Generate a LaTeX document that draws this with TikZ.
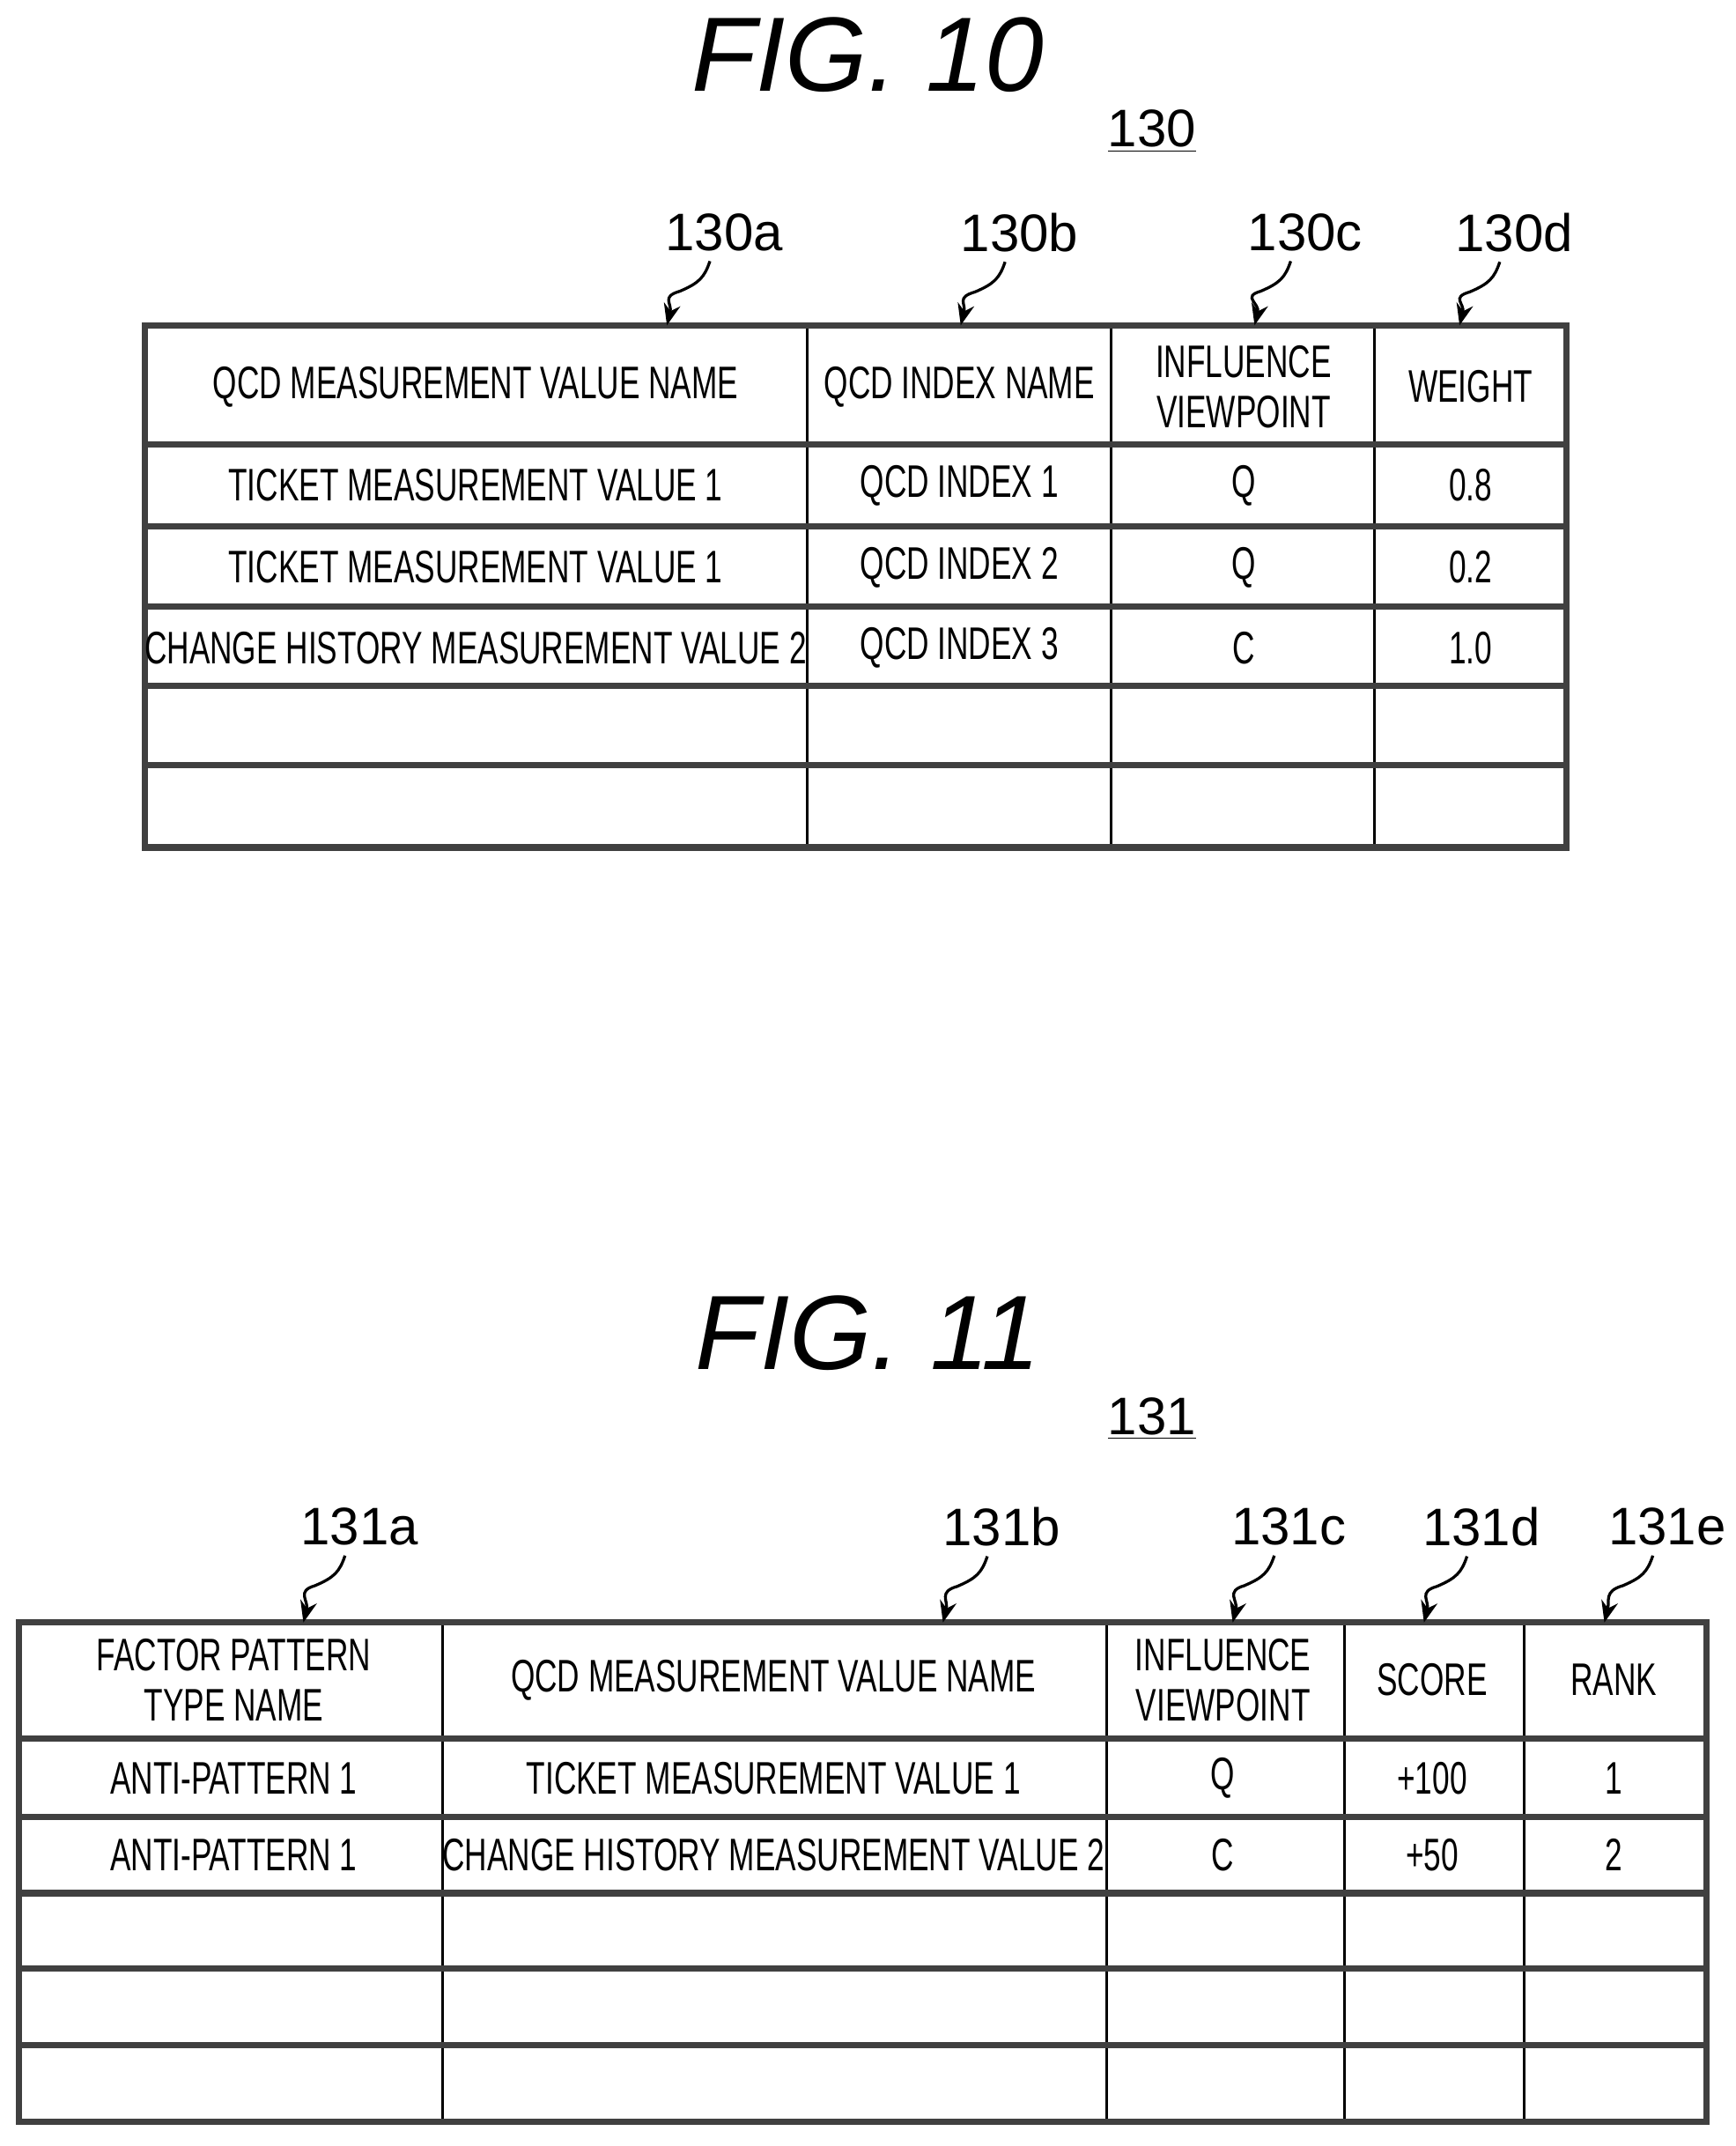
\documentclass[tikz,border=0pt]{standalone}
\usepackage{fontspec}
\setmainfont{Liberation Sans}
\usetikzlibrary{arrows.meta}
\begin{document}
\begin{tikzpicture}[x=0.02cm, y=-0.02cm,
    cell/.style={font=\fontsize{19}{21}\selectfont, xscale=0.68, transform shape, align=center, inner sep=0pt},
    ref/.style={font=\fontsize{22}{24}\selectfont, inner sep=0pt},
    fig/.style={font=\fontsize{44}{48}\selectfont\itshape},
    lead/.style={-{Stealth[length=9pt, width=7pt]}, line width=1.2pt},
    frame/.style={line width=2.6pt, black!75},
    sep/.style={line width=1.1pt}
]
    \useasboundingbox (0,0) rectangle (1270,1570);

    % FIG. 10
    \node[fig] (fig10) at (635,40) {FIG. 10};
    \node[ref] (t130) at (843,96) {\underline{130}};
    \foreach \x in {591,813,1006} \draw[sep] (\x,238) -- (\x,620);
    \foreach \y in {325,385,444,502,560} \draw[frame] (106,\y) -- (1146,\y);
    \draw[frame] (106,238) rectangle (1146,620);
    \node[cell] (h1) at (348,283) {QCD MEASUREMENT VALUE NAME};
    \node[cell] (h2) at (702,283) {QCD INDEX NAME};
    \node[cell] (h3) at (910,283) {INFLUENCE\\VIEWPOINT};
    \node[cell] (h4) at (1076,283) {WEIGHT};
    \foreach \y/\a/\b/\c/\d in {355/TICKET MEASUREMENT VALUE 1/QCD INDEX 1/Q/0.8,
        415/TICKET MEASUREMENT VALUE 1/QCD INDEX 2/Q/0.2,
        474/CHANGE HISTORY MEASUREMENT VALUE 2/QCD INDEX 3/C/1.0} {
        \node[cell] at (348,\y) {\a};
        \node[cell] at (702,\y) {\b};
        \node[cell] at (910,\y) {\c};
        \node[cell] at (1076,\y) {\d};
    }
    % reference leaders
    \foreach \n/\lx/\tx in {130a/530/488, 130b/746/703, 130c/955/918, 130d/1108/1068} {
        \node[ref] (l\n) at (\lx,170) {\n};
        \coordinate (p\n) at (\tx,238);
        \draw[lead] ([xshift=-6pt,yshift=-4pt]l\n.south) .. controls +(-4,12) and +(14,-6) .. +(-22,22)
            .. controls +(-14,4) and +(4,-16) .. (p\n);
    }

    % FIG. 11
    \node[fig] (fig11) at (635,975) {FIG. 11};
    \node[ref] (t131) at (843,1038) {\underline{131}};
    \foreach \x in {324,810,984,1115} \draw[sep] (\x,1187) -- (\x,1552);
    \foreach \y in {1272,1329,1385,1440,1496} \draw[frame] (14,\y) -- (1249,\y);
    \draw[frame] (14,1187) rectangle (1249,1552);
    \node[cell] (k1) at (171,1229) {FACTOR PATTERN\\TYPE NAME};
    \node[cell] (k2) at (566,1229) {QCD MEASUREMENT VALUE NAME};
    \node[cell] (k3) at (895,1229) {INFLUENCE\\VIEWPOINT};
    \node[cell] (k4) at (1048,1229) {SCORE};
    \node[cell] (k5) at (1181,1229) {RANK};
    \foreach \y/\a/\b/\c/\d/\e in {1301/ANTI-PATTERN 1/TICKET MEASUREMENT VALUE 1/Q/+100/1,
        1357/ANTI-PATTERN 1/CHANGE HISTORY MEASUREMENT VALUE 2/C/+50/2} {
        \node[cell] at (171,\y) {\a};
        \node[cell] at (566,\y) {\b};
        \node[cell] at (895,\y) {\c};
        \node[cell] at (1048,\y) {\d};
        \node[cell] at (1181,\y) {\e};
    }
    \foreach \n/\lx/\tx in {131a/263/222, 131b/733/690, 131c/943/902, 131d/1084/1042, 131e/1220/1174} {
        \node[ref] (l\n) at (\lx,1117) {\n};
        \coordinate (p\n) at (\tx,1187);
        \draw[lead] ([xshift=-6pt,yshift=-4pt]l\n.south) .. controls +(-4,12) and +(14,-6) .. +(-22,22)
            .. controls +(-14,4) and +(4,-16) .. (p\n);
    }
\end{tikzpicture}
\end{document}
